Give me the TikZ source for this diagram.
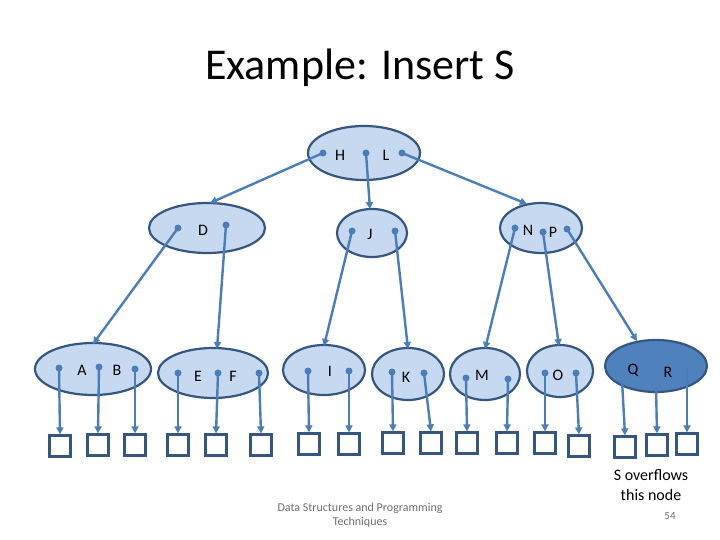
\documentclass[tikz,border=0pt]{standalone}
\usepackage{fontspec}
\setmainfont{Carlito}
\usetikzlibrary{shapes.geometric,arrows.meta}
\definecolor{linec}{RGB}{74,126,187}
\definecolor{edgec}{RGB}{52,86,128}
\definecolor{nodefill}{RGB}{198,217,241}
\definecolor{darkfill}{RGB}{79,129,189}
\definecolor{grayt}{RGB}{110,110,110}
\tikzset{
  ell/.style 2 args={ellipse, draw=edgec, fill=nodefill, line width=2.2pt, inner sep=0pt, minimum width=#1, minimum height=#2},
  dot/.style={circle, fill=linec, inner sep=0pt, minimum size=7pt},
  conn/.style={draw=linec, line width=2.4pt, -{Triangle[length=7pt,width=7pt]}, shorten <=0pt},
  leafbox/.style={draw=edgec, line width=2.2pt, fill=white, minimum size=21pt, inner sep=0pt},
  lab/.style={font=\fontsize{16}{19}\selectfont, inner sep=0pt}
}
\begin{document}
\begin{tikzpicture}[x=1pt,y=-1pt]
\useasboundingbox (0,0) rectangle (720,540);
% title
\node[font=\fontsize{44}{52}\selectfont, inner sep=0pt] (title) at (360,68) {Example: Insert S};
% ellipses
\node[ell={112pt}{54pt}] (HL) at (364,153) {};
\node[ell={116pt}{50pt}] (D) at (207,228) {};
\node[ell={70pt}{48pt}] (J) at (372,233) {};
\node[ell={82pt}{50pt}] (NP) at (541,228) {};
\node[ell={116pt}{52pt}] (AB) at (93,369) {};
\node[ell={110pt}{50pt}] (EF) at (213,373) {};
\node[ell={82pt}{50pt}] (I) at (324,370) {};
\node[ell={72pt}{52pt}] (K) at (408,374) {};
\node[ell={70pt}{52pt}] (M) at (485,374) {};
\node[ell={66pt}{52pt}] (O) at (560,371) {};
\node[ell={102pt}{52pt}, fill=darkfill] (QR) at (656,366) {};
% labels
\node[lab] (tH) at (340,155) {H};
\node[lab] (tL) at (386,155) {L};
\node[lab] (tD) at (203,230) {D};
\node[lab] (tJ) at (370,234) {J};
\node[lab] (tN) at (528,230) {N};
\node[lab] (tP) at (553,232) {P};
\node[lab] (tA) at (82,370) {A};
\node[lab] (tB) at (117,370) {B};
\node[lab] (tE) at (198,376) {E};
\node[lab] (tF) at (233,376) {F};
\node[lab] (tI) at (330,371) {I};
\node[lab] (tK) at (406,377) {K};
\node[lab] (tM) at (482,375) {M};
\node[lab] (tO) at (558,375) {O};
\node[lab] (tQ) at (633,370) {Q};
\node[lab] (tR) at (668,372) {R};
% dots (pointer origins)
\foreach \n/\x/\y in {h1/323/153, h2/366/153, h3/402/153,
  d1/178/228, d2/226/225, j1/352/231, j2/395/231,
  n1/515/228, n2/543/232, n3/567/229,
  a1/59/368, a2/99/367, a3/135/369,
  e1/178/373, e2/218/373, e3/259/373,
  i1/308/371, i2/349/371, k1/392/372, k2/424/373,
  m1/466/378, m2/508/379, o1/545/373, o2/576/373}
  \node[dot] (\n) at (\x,\y) {};
\foreach \n/\x/\y in {q1/622/380, q2/656/386, q3/687/368}
  \node[dot, fill=darkfill] (\n) at (\x,\y) {};
% target points on ellipse tops
\coordinate (Dt) at (210,203);
\coordinate (Jt) at (370,209);
\coordinate (NPt) at (527,204);
\coordinate (ABt) at (93,344);
\coordinate (EFt) at (217,349);
\coordinate (It) at (324,346);
\coordinate (Kt) at (408,349);
\coordinate (Mt) at (485,349);
\coordinate (Ot) at (559,346);
\coordinate (QRt) at (637,341);
% leaf boxes
\foreach \n/\x/\y in {b1/60/446, b2/98/445, b3/135/445,
  b4/178/445, b5/216/445, b6/261/445,
  b7/309/444, b8/349/444, b9/393/443, b10/431/443,
  b11/467/443, b12/507/443, b13/545/443, b14/579/446,
  b15/625/447, b16/657/445, b17/687/444}
  \node[leafbox] (\n) at (\x,\y) {};
% internal connectors
\draw[conn] (h1.center) -- (Dt);
\draw[conn] (h2.center) -- (Jt);
\draw[conn] (h3.center) -- (NPt);
\draw[conn] (d1.center) -- (ABt);
\draw[conn] (d2.center) -- (EFt);
\draw[conn] (j1.center) -- (It);
\draw[conn] (j2.center) -- (Kt);
\draw[conn] (n1.center) -- (Mt);
\draw[conn] (n2.center) -- (Ot);
\draw[conn] (n3.center) -- (QRt);
% leaf connectors
\foreach \s/\t in {a1/b1, a2/b2, a3/b3, e1/b4, e2/b5, e3/b6,
  i1/b7, i2/b8, k1/b9, k2/b10, m1/b11, m2/b12, o1/b13, o2/b14,
  q1/b15, q2/b16, q3/b17}
  \draw[conn] (\s.center) -- (\t.north);
% texts
\node[font=\fontsize{16}{20}\selectfont, align=center, inner sep=0pt] (note) at (651,485) {S overflows\\this node};
\node[font=\fontsize{12}{14}\selectfont, text=grayt, align=center, inner sep=0pt] (foot) at (360,515) {Data Structures and Programming\\Techniques};
\node[font=\fontsize{11}{13.5}\selectfont, text=grayt, inner sep=0pt] (pg) at (670,516) {54};
\end{tikzpicture}
\end{document}
